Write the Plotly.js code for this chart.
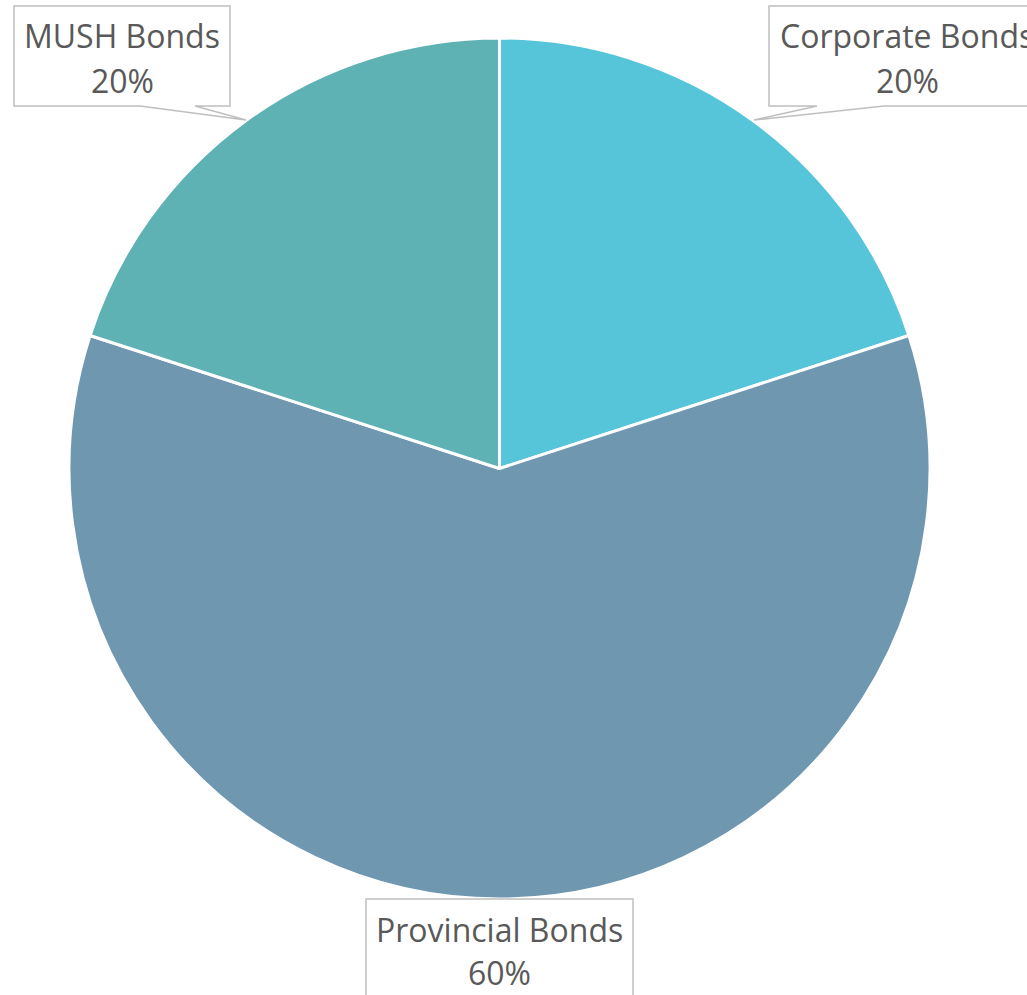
<!DOCTYPE html>
<html><head><meta charset="utf-8">
<script src="https://cdn.plot.ly/plotly-3.0.1.min.js"></script>
<style>html,body{margin:0;padding:0;background:#fff}#chart{width:1027px;height:995px}</style>
</head><body><div id="chart"></div>
<script>
const categories = ["Corporate Bonds", "Provincial Bonds", "MUSH Bonds"];
const shares = [20, 60, 20];
const sliceColors = ["#56C5D9", "#6F97AF", "#5EB2B3"];

const W = 1027, H = 995;
const px = x => x / W, py = y => 1 - y / H;
const total = shares.reduce((a, b) => a + b, 0);
const pct = shares.map(v => Math.round(v / total * 100) + "%");

// callout boxes (pixel geometry of label boxes)
const callouts = [
  {i: 0, box: [769, 6, 1045, 106], tail: [[817, 106], [754, 120], [884, 106]], l1: 36, l2: 80},
  {i: 1, box: [366, 899, 633, 1010], tail: null, l1: 929, l2: 972},
  {i: 2, box: [14, 6, 230, 106], tail: [[140, 106], [246, 120], [195, 106]], l1: 36, l2: 80}
];

const shapes = [], annotations = [];
callouts.forEach(c => {
  const [x0, y0, x1, y1] = c.box;
  let path = `M${px(x0)},${py(y0)} L${px(x1)},${py(y0)} L${px(x1)},${py(y1)} `;
  if (c.tail) {
    const t = c.tail;
    path += `L${px(t[2][0])},${py(t[2][1])} L${px(t[1][0])},${py(t[1][1])} L${px(t[0][0])},${py(t[0][1])} `;
  }
  path += `L${px(x0)},${py(y1)} Z`;
  shapes.push({type: "path", xref: "paper", yref: "paper", path: path,
    fillcolor: "#FFFFFF", line: {color: "#BFBFBF", width: 1.5}, layer: "above"});
  const cx = (x0 + x1) / 2;
  [[categories[c.i], c.l1], [pct[c.i], c.l2]].forEach(([t, y]) => {
    annotations.push({text: t, xref: "paper", yref: "paper", x: px(cx), y: py(y),
      xanchor: "center", yanchor: "middle", showarrow: false,
      font: {family: "Open Sans, sans-serif", size: 32, color: "#595959"}});
  });
});

const trace = {
  type: "pie", labels: categories, values: shares, sort: false, direction: "clockwise",
  rotation: 0, textinfo: "none", hoverinfo: "label+percent",
  marker: {colors: sliceColors, line: {color: "#FFFFFF", width: 3}},
  domain: {x: [px(68), px(931)], y: [py(899), py(38)]}
};

Plotly.newPlot("chart", [trace], {
  width: W, height: H, margin: {l: 0, r: 0, t: 0, b: 0},
  showlegend: false, paper_bgcolor: "#FFFFFF",
  shapes: shapes, annotations: annotations
}, {staticPlot: true});
</script></body></html>
